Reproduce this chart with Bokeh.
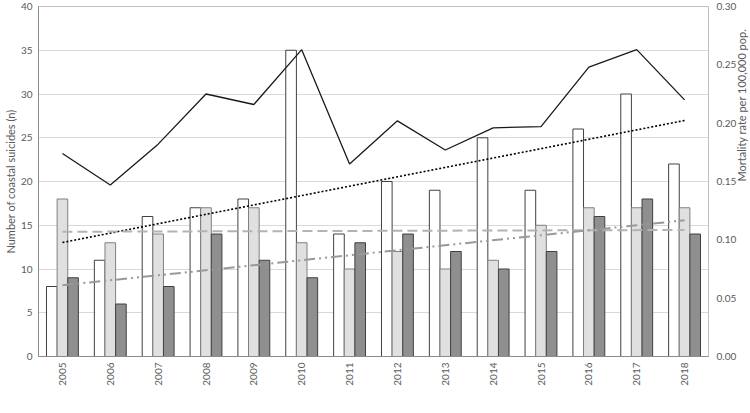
import math
import numpy as np
from bokeh.plotting import figure
from bokeh.models import (FactorRange, Range1d, LinearAxis, FixedTicker, Legend,
                          LegendItem, ColumnDataSource, NumeralTickFormatter)
from bokeh.transform import dodge
from bokeh.embed import file_html
from bokeh.resources import INLINE

years = ["2005", "2006", "2007", "2008", "2009", "2010", "2011",
         "2012", "2013", "2014", "2015", "2016", "2017", "2018"]
x80 = [8, 11, 16, 17, 18, 35, 14, 20, 19, 25, 19, 26, 30, 22]
x71 = [18, 13, 14, 17, 17, 13, 10, 12, 10, 11, 15, 17, 17, 17]
other = [9, 6, 8, 14, 11, 9, 13, 14, 12, 10, 12, 16, 18, 14]
rate = [0.174, 0.147, 0.182, 0.225, 0.216, 0.263, 0.165,
        0.202, 0.177, 0.196, 0.197, 0.248, 0.263, 0.220]
left_ticks = [0, 5, 10, 15, 20, 25, 30, 35, 40]
right_ticks = [0.0, 0.05, 0.10, 0.15, 0.20, 0.25, 0.30]

FONT = "Lato"
TXT = "#595959"

src = ColumnDataSource(dict(year=years, x80=x80, x71=x71, other=other, rate=rate))

# linear trend lines (least squares, as the chart's "Linear" trendlines)
idx = np.arange(1, len(years) + 1)
def trend(vals):
    m, b = np.polyfit(idx, np.array(vals, dtype=float), 1)
    return [m * idx[0] + b, m * idx[-1] + b]

p = figure(x_range=FactorRange(*years), y_range=Range1d(0, 40),
           frame_width=670, frame_height=350, output_backend="svg", toolbar_location=None,
           min_border_top=6, min_border_bottom=49, min_border_left=0, min_border_right=0)
p.extra_y_ranges = {"rate": Range1d(0, 0.30)}

p.outline_line_color = "#bfbfbf"
p.background_fill_color = "white"
p.xgrid.grid_line_color = None
p.ygrid.ticker = FixedTicker(ticks=left_ticks)
p.ygrid.grid_line_color = "#d9d9d9"

# left axis
ya = p.yaxis[0]
ya.ticker = FixedTicker(ticks=left_ticks)
ya.axis_label = "Number of coastal suicides (n)"
ya.axis_line_color = "#8c8c8c"

# bottom axis
xa = p.xaxis[0]
xa.major_label_orientation = math.pi / 2
xa.axis_line_color = "#8c8c8c"

# right axis
ra = LinearAxis(y_range_name="rate", ticker=FixedTicker(ticks=right_ticks),
                formatter=NumeralTickFormatter(format="0.00"),
                axis_label="Mortality rate per 100,000 pop.")
ra.axis_line_color = "#bfbfbf"
try:
    ra.axis_label_orientation = math.pi / 2
except Exception:
    pass
p.add_layout(ra, "right")

for ax in (ya, xa, ra):
    ax.major_tick_in = 0
    ax.major_tick_out = 0
    ax.minor_tick_in = 0
    ax.minor_tick_out = 0
    ax.major_label_text_font = FONT
    ax.major_label_text_font_size = "10px"
    ax.major_label_text_color = TXT
    ax.axis_label_text_font = FONT
    ax.axis_label_text_font_size = "11px"
    ax.axis_label_text_font_style = "normal"
    ax.axis_label_text_color = TXT
ya.major_label_standoff = 6
ya.axis_label_standoff = 1
ra.major_label_standoff = 8
ra.axis_label_standoff = 2
xa.major_label_standoff = 6
xa.axis_label_standoff = 0

bw = 0.222
r80 = p.vbar(x=dodge("year", -bw, range=p.x_range), top="x80", width=bw, source=src,
             fill_color="white", line_color="#404040", line_width=1)
r71 = p.vbar(x=dodge("year", 0, range=p.x_range), top="x71", width=bw, source=src,
             fill_color="#e0e0e0", line_color="#808080", line_width=1)
rot = p.vbar(x=dodge("year", bw, range=p.x_range), top="other", width=bw, source=src,
             fill_color="#8f8f8f", line_color="#404040", line_width=1)

ends = [years[0], years[-1]]
t80 = p.line(x=ends, y=trend(x80), line_color="#000000", line_width=1.6, line_dash="2 2")
t71 = p.line(x=ends, y=trend(x71), line_color="#b3b3b3", line_width=2, line_dash="10 5")
tot = p.line(x=ends, y=trend(other), line_color="#999999", line_width=2,
             line_dash="11 4 2 4 2 4")
rl = p.line(x="year", y="rate", source=src, y_range_name="rate",
            line_color="#1a1a1a", line_width=1.3)

legend = Legend(items=[
    LegendItem(label="X80", renderers=[r80]),
    LegendItem(label="X71", renderers=[r71]),
    LegendItem(label="Other", renderers=[rot]),
    LegendItem(label="Rate/100,000 pop.", renderers=[rl]),
    LegendItem(label="Linear (X80)", renderers=[t80]),
    LegendItem(label="Linear (X71)", renderers=[t71]),
    LegendItem(label="Linear (Other)", renderers=[tot]),
], orientation="horizontal", location=(52, -34))
legend.label_text_font = FONT
legend.label_text_font_size = "10px"
legend.label_text_color = TXT
legend.glyph_width = 28
legend.glyph_height = 10
legend.label_height = 12
legend.label_standoff = 3
legend.spacing = 13
legend.padding = 0
legend.margin = 0
legend.border_line_color = None
legend.background_fill_alpha = 0
p.add_layout(legend, "center")

open("out.html", "w").write(file_html(p, INLINE))
